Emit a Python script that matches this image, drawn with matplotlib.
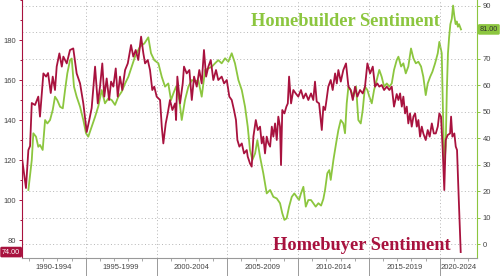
import numpy as np
import matplotlib.pyplot as plt
import matplotlib.transforms as mtransforms
from matplotlib.ticker import MultipleLocator, FixedLocator, NullFormatter, FuncFormatter

# Homebuyer sentiment (left axis), decimal years
buyer_t = [1990.50, 1990.78, 1990.95, 1991.07, 1991.19, 1991.42, 1991.65, 1991.77, 1992.01, 1992.20,
           1992.34, 1992.53, 1992.67, 1992.83, 1992.95, 1993.14, 1993.31, 1993.42, 1993.66, 1993.89,
           1994.12, 1994.36, 1994.60, 1994.83, 1995.07, 1995.25, 1995.42, 1995.66, 1995.85, 1996.01,
           1996.17, 1996.31, 1996.48, 1996.65, 1996.79, 1996.95, 1997.12, 1997.26, 1997.42, 1997.58,
           1997.78, 1997.97, 1998.20, 1998.36, 1998.53, 1998.71, 1998.91, 1999.07, 1999.19, 1999.38,
           1999.54, 1999.70, 1999.84, 2000.01, 2000.25, 2000.37, 2000.48, 2000.65, 2000.79, 2000.95,
           2001.12, 2001.31, 2001.38, 2001.47, 2001.66, 2001.85, 2001.94, 2002.13, 2002.32, 2002.49,
           2002.65, 2002.84, 2003.02, 2003.19, 2003.35, 2003.50, 2003.66, 2003.83, 2004.01, 2004.20,
           2004.36, 2004.60, 2004.77, 2004.96, 2005.14, 2005.31, 2005.47, 2005.61, 2005.71, 2005.85,
           2006.02, 2006.18, 2006.37, 2006.44, 2006.60, 2006.72, 2006.84, 2007.01, 2007.15, 2007.31,
           2007.43, 2007.54, 2007.66, 2007.78, 2007.90, 2008.02, 2008.14, 2008.25, 2008.37, 2008.49,
           2008.60, 2008.72, 2008.79, 2008.88, 2009.03, 2009.17, 2009.27, 2009.36, 2009.50, 2009.66,
           2009.83, 2010.01, 2010.20, 2010.37, 2010.54, 2010.72, 2010.91, 2011.07, 2011.19, 2011.31,
           2011.48, 2011.62, 2011.67, 2011.78, 2011.90, 2011.97, 2012.13, 2012.30, 2012.44, 2012.61,
           2012.73, 2012.84, 2013.01, 2013.19, 2013.38, 2013.55, 2013.71, 2013.86, 2014.02, 2014.18,
           2014.37, 2014.56, 2014.72, 2014.89, 2015.08, 2015.27, 2015.43, 2015.59, 2015.73, 2015.90,
           2016.07, 2016.26, 2016.44, 2016.61, 2016.77, 2016.96, 2017.08, 2017.20, 2017.32, 2017.43,
           2017.55, 2017.67, 2017.78, 2017.90, 2018.02, 2018.14, 2018.26, 2018.38, 2018.49, 2018.61,
           2018.73, 2018.84, 2019.01, 2019.15, 2019.29, 2019.44, 2019.58, 2019.72, 2019.86, 2019.97,
           2020.09, 2020.21, 2020.32, 2020.42, 2020.56, 2020.73, 2020.80, 2020.89, 2021.03, 2021.13,
           2021.22, 2021.31, 2021.48]
buyer_v = [121, 106, 125, 127, 148.5, 147.5, 151.7, 141.7, 163.3, 161.7,
           163.5, 153.5, 161.7, 155, 166.7, 173.3, 166.7, 171.7, 168.3, 175,
           175.8, 163.3, 158.3, 148.3, 134, 140, 146, 166.7, 148.3, 156.7,
           168.3, 151.7, 160.8, 150, 159.2, 156.7, 165.8, 151.7, 161.7, 155,
           165, 168.3, 177.5, 171.7, 175, 170, 181.7, 173.3, 168.3, 170,
           165, 155, 156.7, 151.7, 150, 136.7, 128.3, 138.3, 143.3, 150,
           145, 148.3, 140, 161.7, 148.3, 158.3, 166.7, 163.3, 165, 150,
           161.7, 156.7, 165, 158.3, 175, 161.7, 166.7, 170, 160, 165,
           160, 161.7, 158.3, 160, 151.7, 150, 145, 140, 130, 126.7,
           128.3, 123.3, 125, 121.7, 118.3, 116.7, 131.7, 140, 135, 136.7,
           128.3, 131.7, 123.3, 131.7, 128.3, 126.7, 136.7, 131.7, 138.3, 130,
           141.7, 136.7, 117.5, 145, 143.3, 146.7, 148.3, 161.7, 148.3, 155,
           153.3, 151.7, 155, 150.8, 153.3, 150, 153.3, 150, 159.2, 149.2,
           148.3, 138.3, 135, 146.7, 145, 148.3, 156.7, 160, 155, 163.3,
           158.3, 165, 159.2, 165, 168.3, 156.7, 155, 150, 156.7, 151.7,
           155, 153.3, 156.7, 168.3, 163.3, 166.7, 156.7, 158.3, 156.7, 157.5,
           155, 156.7, 155, 156.7, 146.7, 153, 150, 153.3, 146.7, 151.7,
           143.3, 146.7, 138.3, 143.3, 136.7, 141.7, 143.3, 136.7, 140, 131.7,
           136.7, 133.3, 130, 135, 131.7, 138.3, 133.3, 133.3, 136.7, 143.3,
           141.7, 125, 105, 130, 132.5, 133.3, 141.7, 131.7, 133.3, 126.7,
           125, 106.7, 74]

# Homebuilder sentiment (right axis)
builder_t = [1990.95, 1991.19, 1991.30, 1991.49, 1991.65, 1991.77, 1991.96, 1992.13, 1992.29, 1992.48,
             1992.67, 1992.83, 1992.99, 1993.19, 1993.38, 1993.54, 1993.70, 1993.89, 1994.01, 1994.17,
             1994.36, 1994.60, 1994.83, 1995.02, 1995.18, 1995.42, 1995.66, 1995.89, 1996.13, 1996.36,
             1996.60, 1996.84, 1997.07, 1997.30, 1997.54, 1997.78, 1998.01, 1998.48, 1998.83, 1999.14,
             1999.42, 1999.61, 1999.84, 2000.13, 2000.37, 2000.60, 2000.83, 2001.02, 2001.20, 2001.38,
             2001.61, 2001.78, 2002.01, 2002.25, 2002.49, 2002.72, 2002.95, 2003.19, 2003.43, 2003.66,
             2003.90, 2004.13, 2004.36, 2004.60, 2004.84, 2005.07, 2005.31, 2005.54, 2005.78, 2006.02,
             2006.25, 2006.44, 2006.60, 2006.77, 2006.96, 2007.12, 2007.31, 2007.54, 2007.78, 2008.02,
             2008.25, 2008.49, 2008.72, 2008.88, 2009.03, 2009.19, 2009.36, 2009.55, 2009.73, 2009.90,
             2010.06, 2010.20, 2010.37, 2010.54, 2010.72, 2010.91, 2011.07, 2011.24, 2011.43, 2011.62,
             2011.78, 2011.90, 2012.06, 2012.20, 2012.30, 2012.49, 2012.68, 2012.84, 2013.01, 2013.19,
             2013.31, 2013.43, 2013.55, 2013.71, 2013.90, 2014.09, 2014.25, 2014.42, 2014.56, 2014.72,
             2014.89, 2015.03, 2015.20, 2015.36, 2015.55, 2015.73, 2015.90, 2016.07, 2016.26, 2016.44,
             2016.61, 2016.77, 2016.96, 2017.08, 2017.27, 2017.43, 2017.60, 2017.78, 2017.97, 2018.14,
             2018.31, 2018.49, 2018.68, 2018.84, 2019.01, 2019.15, 2019.32, 2019.48, 2019.67, 2019.86,
             2019.97, 2020.14, 2020.25, 2020.33, 2020.42, 2020.50, 2020.58, 2020.66, 2020.75, 2020.85,
             2020.94, 2021.03, 2021.12, 2021.20, 2021.28, 2021.36, 2021.50]
builder_v = [20.4, 31.7, 41.8, 40.5, 36.7, 37.4, 35.5, 46.8, 45.5, 46.8,
             50.6, 55.6, 54.3, 51.8, 51.2, 58.1, 64.4, 69.4, 70, 59.4,
             55.6, 51.8, 46.8, 41.8, 40.5, 44.3, 48, 52, 58.1, 53.1,
             55, 54.3, 52.5, 55.6, 57.5, 60.6, 63.1, 70.7, 74.5, 75.7,
             78, 72, 69.4, 68.2, 63.1, 59.4, 60.6, 54.3, 57, 59.4,
             54.3, 46.8, 54.3, 59.4, 61.9, 61.3, 61.9, 55.6, 65.7, 66.3,
             66.9, 68.2, 69.4, 68.2, 70.1, 68.8, 72, 68.2, 61.9, 58.1,
             51.8, 44.3, 35.5, 31.7, 34.2, 39.2, 32.9, 26.7, 19.1, 20.4,
             17.8, 17.2, 15.4, 11.6, 9.1, 9.7, 14.1, 17.8, 19.1, 17.8,
             16.6, 19.1, 21.6, 14.1, 16.6, 16.6, 15.4, 14.1, 15.4, 14.5,
             17, 20.4, 26.7, 27.9, 24.2, 31.7, 38, 43, 46.8, 45.5,
             41.8, 53.1, 59.4, 58.1, 55.6, 59.4, 46.8, 45.5, 50.6, 59.4,
             58.1, 55.6, 53.1, 58.1, 61.9, 65.7, 63.1, 59.4, 60.6, 59.4,
             60.6, 65.7, 69.4, 70.7, 67, 68.2, 64.4, 67, 73.8, 70.1,
             68.2, 68.8, 67, 63.1, 56.2, 60.6, 63.1, 65, 68.2, 72,
             76.3, 72, 44.3, 30, 37, 58, 72, 78, 83, 85,
             90, 86, 83, 84, 82, 83, 81]

bands = ['1990-1994', '1995-1999', '2000-2004', '2005-2009', '2010-2014', '2015-2019', '2020-2024']
band_start = [1990, 1995, 2000, 2005, 2010, 2015, 2020]

red = '#a8123e'
green = '#8cc63f'
grey = '#444444'

plt.rcParams['font.family'] = ['Liberation Sans', 'DejaVu Sans']

fig = plt.figure(figsize=(5, 2.76), dpi=100)
ax = fig.add_axes([0.044, 0.065, 0.91, 0.935])
axg = ax.twinx()
ax.set_zorder(axg.get_zorder() + 1)
ax.patch.set_visible(False)

x0, x1 = 1990.5, 2022.63
ax.set_xlim(x0, x1)
ax.set_ylim(71, 200)
axg.set_ylim(-5.3, 92.1)

axg.plot(builder_t, builder_v, color=green, lw=1.3, solid_joinstyle='round')
ax.plot(buyer_t, buyer_v, color=red, lw=1.3, solid_joinstyle='round')

# gridlines follow the right axis
axg.yaxis.set_major_locator(MultipleLocator(10))
axg.grid(axis='y', color='#b5b5b5', lw=0.7, ls=(0, (1, 2.5)))
for b in band_start[1:]:
    ax.axvline(b, color='#b5b5b5', lw=0.7, ls=(0, (1, 2.5)), zorder=0)

# left axis
ax.set_yticks([80, 100, 120, 140, 160, 180])
ax.yaxis.set_minor_locator(MultipleLocator(10))
ax.tick_params(axis='y', which='both', colors=red, labelcolor=grey, labelsize=5.5, length=2.5, width=0.7, pad=1.5)
ax.tick_params(axis='y', which='minor', length=1.5)

# right axis; the 80 label sits under the last-value tag
axg.yaxis.set_major_formatter(FuncFormatter(lambda v, p: '' if round(v) == 80 else f'{v:.0f}'))
axg.tick_params(axis='y', colors=green, labelcolor=grey, labelsize=5.5, length=2.5, width=0.7, pad=1.5)

# x axis: yearly minor ticks, long separators between bands
ax.xaxis.set_major_locator(FixedLocator(band_start[1:]))
ax.xaxis.set_major_formatter(NullFormatter())
ax.xaxis.set_minor_locator(FixedLocator(np.arange(1991, 2023)))
ax.tick_params(axis='x', which='major', length=18, width=0.7, color='#999999')
ax.tick_params(axis='x', which='minor', length=2.5, width=0.6, color='#999999')
trx = mtransforms.blended_transform_factory(ax.transData, ax.transAxes)
for lab, s in zip(bands, band_start):
    lo, hi = max(s, x0), min(s + 5, x1)
    ax.text((lo + hi) / 2, -0.038, lab, transform=trx, ha='center', va='center', fontsize=5.5, color=grey)

for a in (ax, axg):
    a.spines['top'].set_visible(False)
ax.spines['left'].set_color(red)
ax.spines['bottom'].set_color('#999999')
ax.spines['right'].set_visible(False)
axg.spines['right'].set_color(green)
axg.spines['left'].set_visible(False)
axg.spines['bottom'].set_visible(False)

# last-value tags
trl = mtransforms.blended_transform_factory(ax.transAxes, ax.transData)
ax.text(-0.004, buyer_v[-1], f'{buyer_v[-1]:.2f}', transform=trl, ha='right', va='center',
        fontsize=5.2, color='white', clip_on=False,
        bbox=dict(boxstyle='round,pad=0.25,rounding_size=0.2', fc=red, ec='none'))
trr = mtransforms.blended_transform_factory(axg.transAxes, axg.transData)
axg.text(1.006, builder_v[-1], f'{builder_v[-1]:.2f}', transform=trr, ha='left', va='center',
         fontsize=5.2, color='#333333', clip_on=False,
         bbox=dict(boxstyle='round,pad=0.25,rounding_size=0.2', fc=green, ec='none'))

# series titles
ax.text(2006.65, 189.5, 'Homebuilder Sentiment', fontsize=13.2, fontweight='bold', color=green,
        family='Liberation Serif', ha='left', va='center')
ax.text(2008.2, 77.5, 'Homebuyer Sentiment', fontsize=13.2, fontweight='bold', color=red,
        family='Liberation Serif', ha='left', va='center')

fig.savefig('out.png', dpi=100)
